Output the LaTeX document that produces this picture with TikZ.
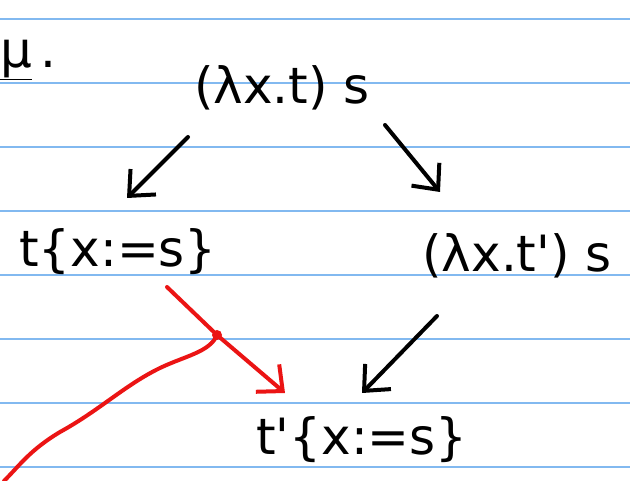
\documentclass[tikz,border=0pt]{standalone}
\usepackage{fontspec}
\setmainfont{DejaVu Sans}
\usetikzlibrary{arrows.meta,calc}
\definecolor{ruled}{RGB}{130,185,240}
\definecolor{inkred}{RGB}{235,20,20}
\tikzset{
  term/.style={inner sep=0pt, font=\fontsize{50}{58}\selectfont},
  ink/.style={line width=4pt, line cap=round, line join=round,
    -{Straight Barb[length=20pt,width=36pt,line width=4pt]}},
  redink/.style={ink, draw=inkred},
  rule/.style={draw=ruled, line width=1.6pt}
}
\begin{document}
\begin{tikzpicture}[x=1pt,y=-1pt]
\fill[white] (0,0) rectangle (630,481);
\useasboundingbox (0,0) rectangle (630,481);
\foreach \yy in {19,83,147,211,275,339,403,467}
  \draw[rule] (0,\yy) -- (630,\yy);

\node[term, anchor=west] (label) at (0,60) {\underline{μ}\,.};
\node[term] (top) at (282,88) {(λx.t) s};
\node[term] (left) at (118,252) {t\{x:=s\}};
\node[term] (right) at (517,256) {(λx.t\textquotesingle) s};
\node[term] (bot) at (362,440) {t\textquotesingle\{x:=s\}};

\draw[ink] ($(top)+(-94,49)$) -- ($(left)+(9,-54)$);
\draw[ink] ($(top)+(103,37)$) -- ($(right)+(-77,-64)$);
\draw[ink] ($(right)+(-80,60)$) -- ($(bot)+(0,-47)$);

\coordinate (hit) at ($(left)+(99,83)$);
\coordinate (tail) at (4,481);
\draw[redink] ($(left)+(49,35)$) -- (hit) -- ($(bot)+(-77,-47)$);
\fill[inkred] (hit) circle (5pt);
\draw[inkred, line width=4pt, line cap=round]
  (hit) .. controls (210,352) and (185,356) .. (160,368)
  .. controls (125,385) and (100,410) .. (60,432)
  .. controls (30,450) and (20,465) .. (tail);
\end{tikzpicture}
\end{document}
